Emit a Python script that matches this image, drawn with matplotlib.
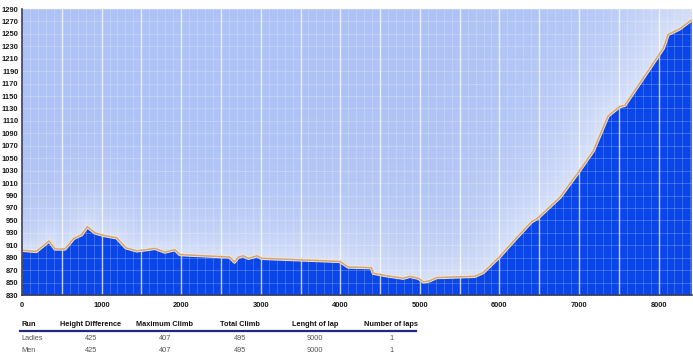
import matplotlib
matplotlib.use("Agg")
import matplotlib.pyplot as plt
from matplotlib.lines import Line2D
import numpy as np

plt.rcParams["font.family"] = ["Liberation Sans", "DejaVu Sans"]

# Elevation profile (distance in m, altitude in m)
distance = [0, 180, 340, 415, 540, 650, 750, 820, 915, 1020, 1190, 1305, 1440,
            1565, 1670, 1795, 1920, 1985, 2610, 2670, 2720, 2780, 2845, 2955,
            3010, 3995, 4100, 4390, 4415, 4580, 4790, 4875, 4980, 5050, 5125,
            5210, 5690, 5795, 6005, 6215, 6405, 6475, 6760, 6990, 7180, 7365,
            7510, 7575, 7850, 8060, 8120, 8265, 8410]
altitude = [902, 900, 917, 904, 904, 921, 927, 940, 930, 926, 922, 906, 901,
            903, 905, 899, 903, 895, 891, 883, 891, 893, 889, 893,
            889, 884, 875, 874, 865, 861, 857, 860, 857, 851, 853,
            858, 860, 866, 892, 922, 948, 953, 987, 1027, 1062, 1118,
            1133, 1135, 1187, 1227, 1249, 1258, 1272]

y_ticks = list(range(830, 1291, 20))
x_ticks = [0, 1000, 2000, 3000, 4000, 5000, 6000, 7000, 8000]

table_headers = ["Run", "Height Difference", "Maximum Climb", "Total Climb",
                 "Lenght of lap", "Number of laps"]
table_rows = [["Ladies", "425", "407", "495", "9000", "1"],
              ["Men", "425", "407", "495", "9000", "1"]]

W, H = 693, 356
fig = plt.figure(figsize=(W / 100, H / 100), dpi=100)
fig.patch.set_facecolor("white")

left_px, right_px, top_px, bottom_px = 22, 692, 9, 295
ax = fig.add_axes([left_px / W, 1 - bottom_px / H,
                   (right_px - left_px) / W, (bottom_px - top_px) / H])
XMAX, YMIN, YMAX = 8420, 830, 1290
ax.set_xlim(0, XMAX)
ax.set_ylim(YMIN, YMAX)

x = np.array(distance, dtype=float)
y = np.array(altitude, dtype=float)

# soft glow background computed in pixel space
aw, ah = right_px - left_px, bottom_px - top_px
nx, ny = aw // 2, ah // 2
gx = np.linspace(0, aw, nx)
gy = np.linspace(0, ah, ny)
GX, GY = np.meshgrid(gx, gy)  # GY: 0 at bottom
px_line = x / XMAX * aw
py_line = (y - YMIN) / (YMAX - YMIN) * ah
seg_pts_x, seg_pts_y = [], []
for i in range(len(px_line) - 1):
    n = max(2, int(np.hypot(px_line[i+1]-px_line[i], py_line[i+1]-py_line[i]) / 2))
    t = np.linspace(0, 1, n, endpoint=False)
    seg_pts_x.append(px_line[i] + t * (px_line[i+1]-px_line[i]))
    seg_pts_y.append(py_line[i] + t * (py_line[i+1]-py_line[i]))
sx = np.concatenate(seg_pts_x)
sy = np.concatenate(seg_pts_y)
dmin = np.full(GX.shape, 1e9)
for a, b in zip(sx, sy):
    d = (GX - a) ** 2 + (GY - b) ** 2
    np.minimum(dmin, d, out=dmin)
dmin = np.sqrt(dmin)
sigma = 30 + 28 * (GX / aw)
glow = np.exp(-dmin / sigma) * 0.78
bg = np.array([0xae, 0xc2, 0xf5]) / 255.0
wh = np.array([0xe4, 0xea, 0xf9]) / 255.0
img = bg[None, None, :] * (1 - glow[..., None]) + wh[None, None, :] * glow[..., None]
ax.imshow(img, extent=[0, XMAX, YMIN, YMAX], origin="lower", aspect="auto",
          interpolation="bilinear", zorder=0)

ax.fill_between(x, y, YMIN, color="#0a45e8", zorder=2, lw=0)

# grid
for xv in np.arange(100, XMAX, 100):
    major = (xv % 500 == 0)
    ax.axvline(xv, color="white", lw=1.0 if major else 0.6,
               alpha=0.75 if major else 0.22, zorder=3)
for yv in y_ticks[1:]:
    ax.axhline(yv, color="white", lw=0.6, alpha=0.25, zorder=3)

# edge line
ax.plot(x, y, color="#f1e6d8", lw=2.4, zorder=4, solid_joinstyle="round")
ax.plot(x, y, color="#d2a676", lw=1.1, zorder=5, solid_joinstyle="round")

ax.set_xticks(x_ticks)
ax.set_yticks(y_ticks)
ax.tick_params(length=0, labelsize=5.4, colors="#1a1a1a")
ax.tick_params(axis="x", pad=5)
ax.tick_params(axis="y", pad=2.5)
for lab in ax.get_xticklabels() + ax.get_yticklabels():
    lab.set_fontweight("bold")
for s in ["top", "right"]:
    ax.spines[s].set_visible(False)
for s in ["left", "bottom"]:
    ax.spines[s].set_color("#3a4060")
    ax.spines[s].set_linewidth(1.2)
    ax.spines[s].set_zorder(6)

# table below
col_x = [21, 91, 165, 240, 315, 391]
aligns = ["left", "center", "center", "center", "center", "center"]
header_y = 324
for cx, al, t in zip(col_x, aligns, table_headers):
    fig.text(cx / W, 1 - header_y / H, t, ha=al, va="center",
             fontsize=5.3, fontweight="bold", color="#111111")
fig.add_artist(Line2D([20 / W, 416 / W], [1 - 330.5 / H, 1 - 330.5 / H],
                      color="#1c2a80", lw=1.6, transform=fig.transFigure))
for ry, row in zip([338, 350], table_rows):
    for cx, al, t in zip(col_x, aligns, row):
        fig.text(cx / W, 1 - ry / H, t, ha=al, va="center",
                 fontsize=5.3, color="#555555")

fig.savefig("out.png", dpi=100)
